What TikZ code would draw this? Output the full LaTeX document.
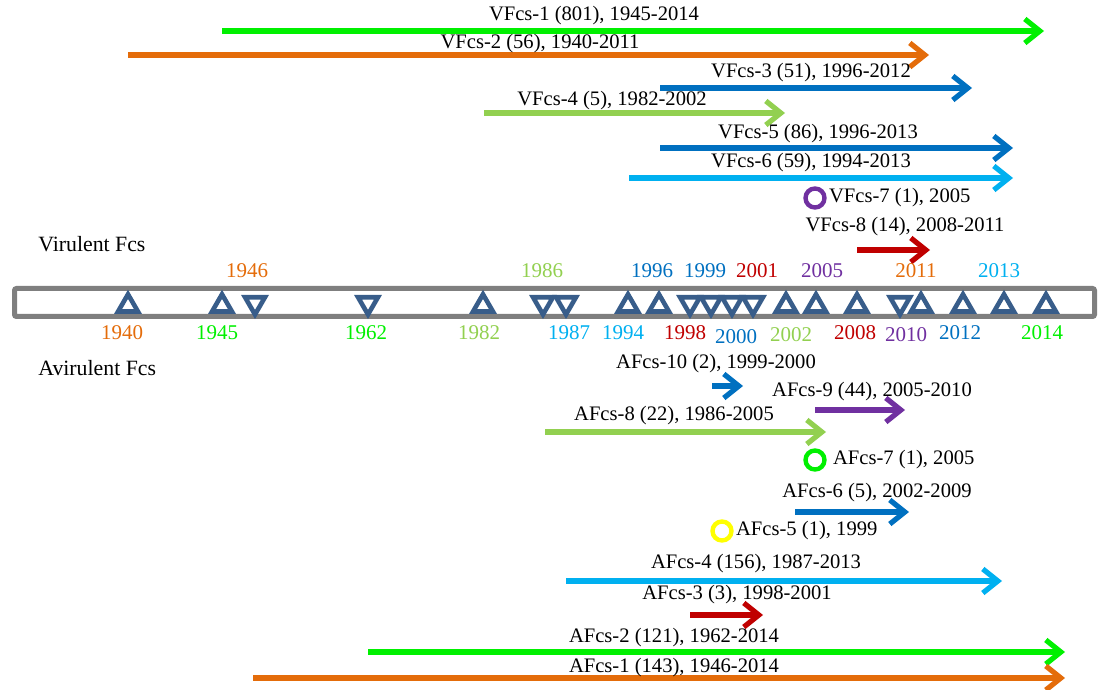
\documentclass[tikz,border=0pt]{standalone}
\usepackage{fontspec}
\setmainfont{Liberation Serif}
\usetikzlibrary{arrows.meta,positioning,shapes.geometric}

\definecolor{vgreen}{RGB}{0,240,0}
\definecolor{vorange}{RGB}{228,108,10}
\definecolor{vblue}{RGB}{0,112,192}
\definecolor{vlime}{RGB}{146,208,80}
\definecolor{vsky}{RGB}{0,176,240}
\definecolor{vpurple}{RGB}{112,48,160}
\definecolor{vred}{RGB}{192,0,0}
\definecolor{vyellow}{RGB}{255,255,0}
\definecolor{markblue}{RGB}{56,93,138}
\definecolor{bargray}{RGB}{127,127,127}

\begin{document}
\begin{tikzpicture}[x=0.5pt, y=-0.5pt, >={Straight Barb[length=7.5pt,width=12pt]},
  span/.style={->, line width=2.6pt},
  lbl/.style={font=\fontsize{10.3}{12}\selectfont, inner sep=1pt},
  side/.style={font=\fontsize{10.9}{13}\selectfont, inner sep=1pt, anchor=west},
  yr/.style={font=\fontsize{10.5}{12}\selectfont, inner sep=0pt},
  upmark/.style={regular polygon, regular polygon sides=3, draw=markblue,
    line width=2.3pt, minimum size=11.5pt, inner sep=0pt, yshift=-1.4pt},
  downmark/.style={upmark, shape border rotate=180, yshift=1.4pt},
  ring/.style={circle, draw, line width=2.2pt, minimum size=9.5pt, inner sep=0pt}]

\useasboundingbox (0,0) rectangle (1105,690);

% virulent isolates
\coordinate (v1a) at (222,31);  \coordinate (v1b) at (1044,31);
\coordinate (v2a) at (128,55);  \coordinate (v2b) at (929,55);
\coordinate (v3a) at (660,88);  \coordinate (v3b) at (972,88);
\coordinate (v4a) at (484,113); \coordinate (v4b) at (785,113);
\coordinate (v5a) at (660,148); \coordinate (v5b) at (1013,148);
\coordinate (v6a) at (629,178); \coordinate (v6b) at (1013,178);
\coordinate (v8a) at (857,250); \coordinate (v8b) at (930,250);

\draw[span, vgreen] (v1a) -- (v1b);
\draw[span, vorange] (v2a) -- (v2b);
\draw[span, vblue] (v3a) -- (v3b);
\draw[span, vlime] (v4a) -- (v4b);
\draw[span, vblue] (v5a) -- (v5b);
\draw[span, vsky] (v6a) -- (v6b);
\draw[span, vred] (v8a) -- (v8b);

\node[lbl] (v1) at (594,16) {VFcs-1 (801), 1945-2014};
\node[lbl] (v2) at (540,44) {VFcs-2 (56), 1940-2011};
\node[lbl] (v3) at (811,73) {VFcs-3 (51), 1996-2012};
\node[lbl] (v4) at (612,101) {VFcs-4 (5), 1982-2002};
\node[lbl] (v5) at (818,134) {VFcs-5 (86), 1996-2013};
\node[lbl] (v6) at (811,163) {VFcs-6 (59), 1994-2013};
\node[ring, draw=vpurple] (v7c) at (815,198) {};
\node[lbl, right=0pt of v7c] (v7) {VFcs-7 (1), 2005};
\node[lbl] (v8) at (905,227) {VFcs-8 (14), 2008-2011};

\node[side] (vir) at (36,244) {Virulent Fcs};
\node[side] (avir) at (36,368) {Avirulent Fcs};

% time line
\draw[bargray, line width=2.5pt, rounded corners=1pt] (14.5,288.5) rectangle (1094.5,316.5);

\node[upmark] (t1940) at (128,303) {};
\node[upmark] (t1945) at (222,303) {};
\node[downmark] (t1946) at (255,303) {};
\node[downmark] (t1962) at (368,303) {};
\node[upmark] (t1982) at (483,303) {};
\node[downmark] (t1986) at (543,303) {};
\node[downmark] (t1987) at (566,303) {};
\node[upmark] (t1994) at (628,303) {};
\node[upmark] (t1996) at (659,303) {};
\node[downmark] (t1998) at (690,303) {};
\node[downmark] (t1999) at (711,303) {};
\node[downmark] (t2000) at (732,303) {};
\node[downmark] (t2001) at (753,303) {};
\node[upmark] (t2002) at (786,303) {};
\node[upmark] (t2005) at (816,303) {};
\node[upmark] (t2008) at (857,303) {};
\node[downmark] (t2010) at (900,303) {};
\node[upmark] (t2011) at (921,303) {};
\node[upmark] (t2012) at (963,303) {};
\node[upmark] (t2013) at (1004,303) {};
\node[upmark] (t2014) at (1046,303) {};

\node[yr, vorange] (y1940) at (122,333) {1940};
\node[yr, vgreen] (y1945) at (217,333) {1945};
\node[yr, vorange] (y1946) at (247,271) {1946};
\node[yr, vgreen] (y1962) at (366,333) {1962};
\node[yr, vlime] (y1982) at (479,333) {1982};
\node[yr, vlime] (y1986) at (542,271) {1986};
\node[yr, vsky] (y1987) at (569,333) {1987};
\node[yr, vsky] (y1994) at (623,333) {1994};
\node[yr, vblue] (y1996) at (652,271) {1996};
\node[yr, vred] (y1998) at (685,333) {1998};
\node[yr, vblue] (y1999) at (705,271) {1999};
\node[yr, vblue] (y2000) at (736,337) {2000};
\node[yr, vred] (y2001) at (757,271) {2001};
\node[yr, vlime] (y2002) at (791,335) {2002};
\node[yr, vpurple] (y2005) at (822,271) {2005};
\node[yr, vred] (y2008) at (855,333) {2008};
\node[yr, vpurple] (y2010) at (906,335) {2010};
\node[yr, vorange] (y2011) at (916,271) {2011};
\node[yr, vblue] (y2012) at (960,333) {2012};
\node[yr, vsky] (y2013) at (999,271) {2013};
\node[yr, vgreen] (y2014) at (1042,333) {2014};

% avirulent isolates
\coordinate (a10a) at (712,386); \coordinate (a10b) at (743,386);
\coordinate (a9a) at (815,410);  \coordinate (a9b) at (905,410);
\coordinate (a8a) at (545,432);  \coordinate (a8b) at (826,432);
\coordinate (a6a) at (795,512);  \coordinate (a6b) at (909,512);
\coordinate (a4a) at (566,581);  \coordinate (a4b) at (1002,581);
\coordinate (a3a) at (690,615);  \coordinate (a3b) at (763,615);
\coordinate (a2a) at (368,652);  \coordinate (a2b) at (1065,652);
\coordinate (a1a) at (253,678);  \coordinate (a1b) at (1065,678);

\draw[span, vblue] (a10a) -- (a10b);
\draw[span, vpurple] (a9a) -- (a9b);
\draw[span, vlime] (a8a) -- (a8b);
\draw[span, vblue] (a6a) -- (a6b);
\draw[span, vsky] (a4a) -- (a4b);
\draw[span, vred] (a3a) -- (a3b);
\draw[span, vgreen] (a2a) -- (a2b);
\draw[span, vorange] (a1a) -- (a1b);

\node[lbl] (a10) at (716,364) {AFcs-10 (2), 1999-2000};
\node[lbl] (a9) at (872,392) {AFcs-9 (44), 2005-2010};
\node[lbl] (a8) at (674,416) {AFcs-8 (22), 1986-2005};
\node[ring, draw=vgreen] (a7c) at (815,460) {};
\node[lbl, right=2pt of a7c] (a7) {AFcs-7 (1), 2005};
\node[lbl] (a6) at (877,493) {AFcs-6 (5), 2002-2009};
\node[ring, draw=vyellow] (a5c) at (722,531) {};
\node[lbl, right=0pt of a5c] (a5) {AFcs-5 (1), 1999};
\node[lbl] (a4) at (756,564) {AFcs-4 (156), 1987-2013};
\node[lbl] (a3) at (737,595) {AFcs-3 (3), 1998-2001};
\node[lbl] (a2) at (674,638) {AFcs-2 (121), 1962-2014};
\node[lbl] (a1) at (674,668) {AFcs-1 (143), 1946-2014};

\end{tikzpicture}
\end{document}
